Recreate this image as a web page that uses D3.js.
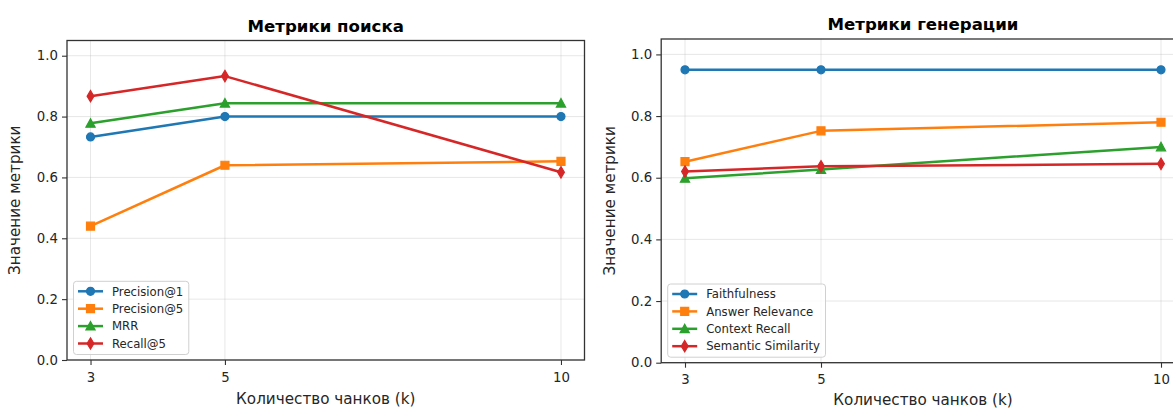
<!DOCTYPE html>
<html>
<head>
<meta charset="utf-8">
<script src="https://cdn.jsdelivr.net/npm/d3@7"></script>
<style>
  body { margin: 0; background: #fff; }
  svg { display: block; font-family: "DejaVu Sans", sans-serif; }
</style>
</head>
<body>
<svg id="chart" width="1173" height="408"></svg>
<script>
// ---- data ----
const ks = [3, 5, 10];
const xTickLabels = ["3", "5", "10"];
const yTicks = [0, 0.2, 0.4, 0.6, 0.8, 1.0];
const yTickLabels = ["0.0", "0.2", "0.4", "0.6", "0.8", "1.0"];

const retrievalTitle = "Метрики поиска";
const retrievalNames = ["Precision@1", "Precision@5", "MRR", "Recall@5"];
const precision1 = [0.733, 0.800, 0.800];
const precision5 = [0.440, 0.640, 0.653];
const mrr = [0.778, 0.844, 0.844];
const recall5 = [0.867, 0.933, 0.617];

const generationTitle = "Метрики генерации";
const generationNames = ["Faithfulness", "Answer Relevance", "Context Recall", "Semantic Similarity"];
const faithfulness = [0.950, 0.950, 0.950];
const answerRelevance = [0.652, 0.752, 0.780];
const contextRecall = [0.598, 0.627, 0.700];
const semanticSimilarity = [0.620, 0.637, 0.645];

const xLabel = "Количество чанков (k)";
const yLabel = "Значение метрики";

const colors = ["#1f77b4", "#ff7f0e", "#2ca02c", "#d62728"];
const markers = ["circle", "square", "triangle", "thin_diamond"];

// ---- drawing ----
const svg = d3.select("#chart");

function markerPath(type) {
  const p = d3.path();
  if (type === "circle") {
    p.arc(0, 0, 4, 0, 2 * Math.PI);
  } else if (type === "square") {
    p.rect(-4, -4, 8, 8);
  } else if (type === "triangle") {
    p.moveTo(0, -4.6); p.lineTo(4.6, 3.9); p.lineTo(-4.6, 3.9); p.closePath();
  } else {
    p.moveTo(0, -5.7); p.lineTo(3.4, 0); p.lineTo(0, 5.7); p.lineTo(-3.4, 0); p.closePath();
  }
  return p.toString();
}

function panel(cfg) {
  const { L, R, T, B, title, names, series, xLabelY, yLabelX } = cfg;
  const x = d3.scaleLinear().domain([2.65, 10.35]).range([L, R]);
  const y = d3.scaleLinear().domain([0, 1.05]).range([B, T]);
  const g = svg.append("g");

  // grid
  g.append("g").selectAll("line").data(yTicks).join("line")
    .attr("x1", L).attr("x2", R).attr("y1", d => y(d)).attr("y2", d => y(d))
    .attr("stroke", "#b0b0b0").attr("stroke-opacity", 0.3).attr("stroke-width", 1);
  g.append("g").selectAll("line").data(ks).join("line")
    .attr("x1", d => x(d)).attr("x2", d => x(d)).attr("y1", T).attr("y2", B)
    .attr("stroke", "#b0b0b0").attr("stroke-opacity", 0.3).attr("stroke-width", 1);

  // axes
  const xAxis = d3.axisBottom(x).tickValues(ks).tickFormat((d, i) => xTickLabels[i])
    .tickSizeInner(5).tickSizeOuter(0).tickPadding(4);
  const yAxis = d3.axisLeft(y).tickValues(yTicks).tickFormat((d, i) => yTickLabels[i])
    .tickSizeInner(5).tickSizeOuter(0).tickPadding(4);
  const gx = g.append("g").attr("transform", `translate(0,${B})`).call(xAxis);
  const gy = g.append("g").attr("transform", `translate(${L},0)`).call(yAxis);
  [gx, gy].forEach(a => {
    a.select(".domain").remove();
    a.selectAll(".tick line").attr("stroke", "#333").attr("stroke-width", 1.1);
    a.selectAll(".tick text").attr("fill", "#262626")
      .style("font-family", "DejaVu Sans").style("font-size", "13.3px");
  });
  gx.selectAll(".tick text").attr("dy", "0.95em");

  // lines + markers
  const line = d3.line().x((d, i) => x(ks[i])).y(d => y(d));
  series.forEach((vals, si) => {
    g.append("path").datum(vals).attr("d", line)
      .attr("fill", "none").attr("stroke", colors[si]).attr("stroke-width", 2.5)
      .attr("stroke-linejoin", "round");
    g.append("g").selectAll("path").data(vals).join("path")
      .attr("transform", (d, i) => `translate(${x(ks[i])},${y(d)})`)
      .attr("d", markerPath(markers[si]))
      .attr("fill", colors[si]).attr("stroke", colors[si]).attr("stroke-width", 1.2);
  });

  // spines
  g.append("rect").attr("x", L).attr("y", T).attr("width", R - L).attr("height", B - T)
    .attr("fill", "none").attr("stroke", "#333").attr("stroke-width", 1.3);

  // title & labels
  g.append("text").attr("x", (L + R) / 2).attr("y", T - 9)
    .attr("text-anchor", "middle").attr("font-weight", "bold")
    .attr("font-size", "16.6px").attr("fill", "#000").text(title);
  g.append("text").attr("x", (L + R) / 2).attr("y", xLabelY)
    .attr("text-anchor", "middle").attr("font-size", "15.2px").attr("fill", "#262626").text(xLabel);
  g.append("text").attr("transform", `translate(${yLabelX},${(T + B) / 2}) rotate(-90)`)
    .attr("text-anchor", "middle").attr("font-size", "15.2px").attr("fill", "#262626").text(yLabel);

  // legend
  const lx = L + 6.5, spacing = 17.4;
  const lg = g.append("g");
  const box = lg.append("rect");
  const boxBottom = B - 5.5;
  const boxTop = boxBottom - (spacing * 3 + 21);
  let maxW = 0;
  names.forEach((n, i) => {
    const cy = boxTop + 10 + i * spacing;
    lg.append("line").attr("x1", lx + 4.5).attr("x2", lx + 29.5).attr("y1", cy).attr("y2", cy)
      .attr("stroke", colors[i]).attr("stroke-width", 2.5);
    lg.append("path").attr("transform", `translate(${lx + 17},${cy})`).attr("d", markerPath(markers[i]))
      .attr("fill", colors[i]).attr("stroke", colors[i]).attr("stroke-width", 1.2);
    const t = lg.append("text").attr("x", lx + 38.5).attr("y", cy).attr("dy", "0.36em")
      .attr("font-size", "11.7px").attr("fill", "#262626").text(n);
    maxW = Math.max(maxW, t.node().getComputedTextLength());
  });
  box.attr("x", lx).attr("y", boxTop).attr("width", 38.5 + maxW + 5.5).attr("height", boxBottom - boxTop)
    .attr("rx", 3).attr("fill", "#fff").attr("fill-opacity", 0.8)
    .attr("stroke", "#d0d0d0").attr("stroke-width", 1);
}

panel({ L: 67, R: 584.5, T: 40.5, B: 360, title: retrievalTitle, names: retrievalNames,
        series: [precision1, precision5, mrr, recall5], xLabelY: 404, yLabelX: 20 });
panel({ L: 661.2, R: 1184.8, T: 39, B: 362.7, title: generationTitle, names: generationNames,
        series: [faithfulness, answerRelevance, contextRecall, semanticSimilarity], xLabelY: 405, yLabelX: 615 });
</script>
</body>
</html>
